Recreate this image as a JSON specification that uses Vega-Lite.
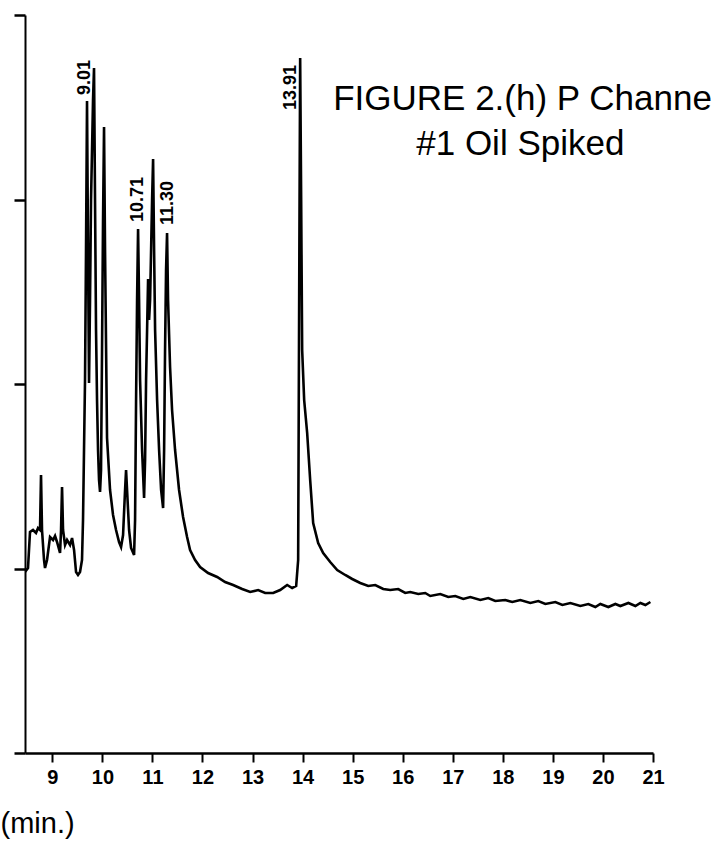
{
  "$schema": "https://vega.github.io/schema/vega-lite/v6.json",
  "width": 628,
  "height": 738,
  "autosize": "none",
  "padding": {"left": 25, "top": 15, "right": 64, "bottom": 100},
  "background": "white",
  "config": {"view": {"stroke": null}, "font": "Liberation Sans"},
  "datasets": {
    "trace": [
      {"t": 8.454, "s": 181}, {"t": 8.514, "s": 185}, {"t": 8.554, "s": 221}, {"t": 8.614, "s": 223},
      {"t": 8.674, "s": 220}, {"t": 8.714, "s": 225}, {"t": 8.754, "s": 223}, {"t": 8.774, "s": 278},
      {"t": 8.794, "s": 223}, {"t": 8.834, "s": 193}, {"t": 8.854, "s": 185}, {"t": 8.894, "s": 193},
      {"t": 8.954, "s": 216}, {"t": 9.014, "s": 213}, {"t": 9.054, "s": 217}, {"t": 9.094, "s": 211},
      {"t": 9.154, "s": 200}, {"t": 9.174, "s": 223}, {"t": 9.194, "s": 266}, {"t": 9.214, "s": 223},
      {"t": 9.254, "s": 208}, {"t": 9.294, "s": 213}, {"t": 9.354, "s": 208}, {"t": 9.394, "s": 215},
      {"t": 9.434, "s": 203}, {"t": 9.474, "s": 181}, {"t": 9.513, "s": 178}, {"t": 9.553, "s": 181},
      {"t": 9.593, "s": 193}, {"t": 9.613, "s": 233}, {"t": 9.633, "s": 303}, {"t": 9.653, "s": 373},
      {"t": 9.673, "s": 503}, {"t": 9.693, "s": 652}, {"t": 9.713, "s": 503}, {"t": 9.733, "s": 370},
      {"t": 9.753, "s": 453}, {"t": 9.773, "s": 553}, {"t": 9.793, "s": 603}, {"t": 9.813, "s": 653},
      {"t": 9.833, "s": 685}, {"t": 9.853, "s": 553}, {"t": 9.873, "s": 423}, {"t": 9.893, "s": 353},
      {"t": 9.913, "s": 303}, {"t": 9.933, "s": 273}, {"t": 9.953, "s": 261}, {"t": 9.973, "s": 283},
      {"t": 9.993, "s": 403}, {"t": 10.013, "s": 533}, {"t": 10.033, "s": 626}, {"t": 10.053, "s": 503},
      {"t": 10.093, "s": 315}, {"t": 10.153, "s": 263}, {"t": 10.213, "s": 238}, {"t": 10.273, "s": 223},
      {"t": 10.333, "s": 211}, {"t": 10.373, "s": 206}, {"t": 10.413, "s": 218}, {"t": 10.453, "s": 263},
      {"t": 10.473, "s": 283}, {"t": 10.493, "s": 263}, {"t": 10.533, "s": 223}, {"t": 10.573, "s": 205},
      {"t": 10.633, "s": 198}, {"t": 10.653, "s": 233}, {"t": 10.673, "s": 353}, {"t": 10.693, "s": 453},
      {"t": 10.713, "s": 524}, {"t": 10.733, "s": 453}, {"t": 10.753, "s": 373}, {"t": 10.793, "s": 303},
      {"t": 10.833, "s": 255}, {"t": 10.853, "s": 293}, {"t": 10.873, "s": 373}, {"t": 10.893, "s": 423},
      {"t": 10.913, "s": 474}, {"t": 10.933, "s": 433}, {"t": 10.953, "s": 453}, {"t": 10.973, "s": 503},
      {"t": 10.993, "s": 553}, {"t": 11.013, "s": 594}, {"t": 11.033, "s": 503}, {"t": 11.053, "s": 423},
      {"t": 11.093, "s": 353}, {"t": 11.133, "s": 303}, {"t": 11.173, "s": 263}, {"t": 11.213, "s": 245},
      {"t": 11.233, "s": 303}, {"t": 11.252, "s": 403}, {"t": 11.272, "s": 483}, {"t": 11.292, "s": 520},
      {"t": 11.312, "s": 453}, {"t": 11.352, "s": 386}, {"t": 11.392, "s": 343}, {"t": 11.452, "s": 303},
      {"t": 11.532, "s": 263}, {"t": 11.612, "s": 236}, {"t": 11.692, "s": 216}, {"t": 11.752, "s": 203},
      {"t": 11.852, "s": 193}, {"t": 11.952, "s": 186}, {"t": 12.112, "s": 180}, {"t": 12.292, "s": 176},
      {"t": 12.452, "s": 171}, {"t": 12.612, "s": 168}, {"t": 12.792, "s": 164}, {"t": 12.952, "s": 161},
      {"t": 13.112, "s": 163}, {"t": 13.252, "s": 160}, {"t": 13.412, "s": 160}, {"t": 13.551, "s": 163},
      {"t": 13.691, "s": 168}, {"t": 13.791, "s": 165}, {"t": 13.871, "s": 167}, {"t": 13.911, "s": 193},
      {"t": 13.931, "s": 453}, {"t": 13.951, "s": 695}, {"t": 13.971, "s": 553}, {"t": 13.991, "s": 403},
      {"t": 14.031, "s": 353}, {"t": 14.091, "s": 320}, {"t": 14.151, "s": 273}, {"t": 14.211, "s": 230},
      {"t": 14.311, "s": 210}, {"t": 14.411, "s": 200}, {"t": 14.551, "s": 191}, {"t": 14.691, "s": 183},
      {"t": 14.851, "s": 178}, {"t": 14.991, "s": 174}, {"t": 15.151, "s": 170}, {"t": 15.311, "s": 167},
      {"t": 15.451, "s": 168}, {"t": 15.611, "s": 164}, {"t": 15.750, "s": 163}, {"t": 15.910, "s": 164},
      {"t": 16.050, "s": 160}, {"t": 16.150, "s": 161}, {"t": 16.310, "s": 159}, {"t": 16.450, "s": 160},
      {"t": 16.550, "s": 157}, {"t": 16.750, "s": 159}, {"t": 16.910, "s": 156}, {"t": 17.050, "s": 157},
      {"t": 17.210, "s": 154}, {"t": 17.350, "s": 156}, {"t": 17.550, "s": 153}, {"t": 17.709, "s": 155},
      {"t": 17.849, "s": 152}, {"t": 18.049, "s": 153}, {"t": 18.189, "s": 151}, {"t": 18.349, "s": 153},
      {"t": 18.549, "s": 150}, {"t": 18.709, "s": 152}, {"t": 18.849, "s": 149}, {"t": 19.049, "s": 151},
      {"t": 19.189, "s": 148}, {"t": 19.349, "s": 150}, {"t": 19.548, "s": 147}, {"t": 19.708, "s": 149},
      {"t": 19.848, "s": 146}, {"t": 19.948, "s": 149}, {"t": 20.108, "s": 146}, {"t": 20.248, "s": 149},
      {"t": 20.348, "s": 147}, {"t": 20.508, "s": 150}, {"t": 20.648, "s": 147}, {"t": 20.748, "s": 150},
      {"t": 20.848, "s": 148}, {"t": 20.948, "s": 151}
    ],
    "peaks": [
      {"t": 9.653, "s": 658, "label": "9.01"},
      {"t": 10.713, "s": 531, "label": "10.71"},
      {"t": 11.312, "s": 528, "label": "11.30"},
      {"t": 13.771, "s": 643, "label": "13.91"}
    ],
    "caption": [
      {"t": 14.611, "s": 643, "label": "FIGURE 2.(h) P Channe"}
    ],
    "caption2": [
      {"t": 18.349, "s": 598, "label": "#1 Oil Spiked"}
    ]
  },
  "layer": [
    {
      "data": {"name": "trace"},
      "mark": {"type": "line", "color": "black", "strokeWidth": 2.6, "clip": true},
      "encoding": {
        "x": {
          "field": "t", "type": "quantitative",
          "scale": {"domain": [8.454, 21], "nice": false, "zero": false},
          "axis": {
            "values": [9, 10, 11, 12, 13, 14, 15, 16, 17, 18, 19, 20, 21],
            "grid": false, "domainColor": "black", "domainWidth": 2.5,
            "tickColor": "black", "tickWidth": 2, "tickSize": 9,
            "labelFont": "Liberation Sans", "labelFontSize": 20, "labelFontWeight": "bold",
            "labelColor": "black", "labelPadding": 5, "labelFlush": false,
            "title": "(min.)", "titleFont": "Liberation Sans", "titleFontSize": 29,
            "titleFontWeight": "normal", "titleColor": "black",
            "titleAnchor": "start", "titleAlign": "left", "titleX": -25, "titleY": 79,
            "titleBaseline": "alphabetic"
          }
        },
        "y": {
          "field": "s", "type": "quantitative",
          "scale": {"domain": [0, 738], "nice": false},
          "axis": {
            "values": [0, 184.5, 369, 553.5, 738],
            "labels": false, "grid": false, "title": null,
            "domainColor": "black", "domainWidth": 2,
            "tickColor": "black", "tickWidth": 2.5, "tickSize": 11
          }
        }
      }
    },
    {
      "data": {"name": "peaks"},
      "mark": {"type": "text", "angle": 270, "align": "left", "baseline": "middle",
               "font": "Liberation Sans", "fontSize": 18, "fontWeight": "bold", "color": "black"},
      "encoding": {
        "x": {"field": "t", "type": "quantitative"},
        "y": {"field": "s", "type": "quantitative"},
        "text": {"field": "label"}
      }
    },
    {
      "data": {"name": "caption"},
      "mark": {"type": "text", "align": "left", "baseline": "alphabetic",
               "font": "Liberation Sans", "fontSize": 35, "color": "black"},
      "encoding": {
        "x": {"field": "t", "type": "quantitative"},
        "y": {"field": "s", "type": "quantitative"},
        "text": {"field": "label"}
      }
    },
    {
      "data": {"name": "caption2"},
      "mark": {"type": "text", "align": "center", "baseline": "alphabetic",
               "font": "Liberation Sans", "fontSize": 35, "color": "black"},
      "encoding": {
        "x": {"field": "t", "type": "quantitative"},
        "y": {"field": "s", "type": "quantitative"},
        "text": {"field": "label"}
      }
    }
  ]
}
